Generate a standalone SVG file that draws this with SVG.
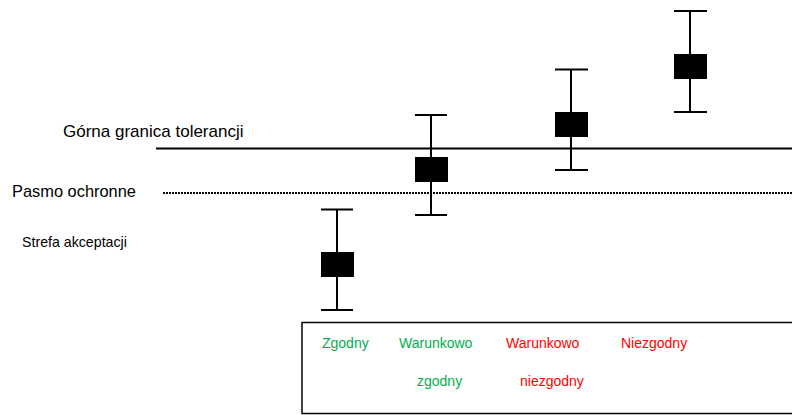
<svg xmlns="http://www.w3.org/2000/svg" width="792" height="415" viewBox="0 0 792 415">
<style>
.bar line{stroke:#000;stroke-width:2}
.bar rect{fill:#000}
.lbl{font-family:"Liberation Sans",Arial,sans-serif;fill:#000}
.g{font-family:"Liberation Sans",Arial,sans-serif;font-size:14px;fill:#00b050}
.r{font-family:"Liberation Sans",Arial,sans-serif;font-size:14px;fill:#ff0000}
</style>
<rect width="792" height="415" fill="#fff"/>
<g id="limits">
<line x1="156" y1="148.5" x2="792" y2="148.5" stroke="#000" stroke-width="2"/>
<line x1="163" y1="193" x2="792" y2="193" stroke="#000" stroke-width="2" stroke-dasharray="2,1"/>
</g>
<g id="labels">
<text class="lbl" x="63" y="137" font-size="17">Górna granica tolerancji</text>
<text class="lbl" x="12" y="197" font-size="16.4">Pasmo ochronne</text>
<text class="lbl" x="22" y="247" font-size="14.2">Strefa akceptacji</text>
</g>
<g id="bar1" class="bar">
<line x1="337" y1="209" x2="337" y2="310"/>
<line x1="321" y1="209.5" x2="353" y2="209.5"/>
<line x1="321" y1="310" x2="353" y2="310"/>
<rect x="321" y="252" width="33" height="25"/>
</g>
<g id="bar2" class="bar">
<line x1="431" y1="115" x2="431" y2="215"/>
<line x1="415" y1="115" x2="447" y2="115"/>
<line x1="415" y1="215" x2="447" y2="215"/>
<rect x="415" y="157" width="33" height="25"/>
</g>
<g id="bar3" class="bar">
<line x1="571" y1="69.5" x2="571" y2="170"/>
<line x1="555" y1="69.5" x2="588" y2="69.5"/>
<line x1="555" y1="170" x2="588" y2="170"/>
<rect x="555" y="112" width="33" height="25"/>
</g>
<g id="bar4" class="bar">
<line x1="690" y1="11" x2="690" y2="112"/>
<line x1="674" y1="11" x2="707" y2="11"/>
<line x1="674" y1="112" x2="707" y2="112"/>
<rect x="674" y="54" width="33" height="25"/>
</g>
<g id="legend">
<rect x="302" y="322.5" width="500" height="91" fill="none" stroke="#000" stroke-width="1.5"/>
<text class="g" x="322" y="348">Zgodny</text>
<text class="g" x="399" y="348">Warunkowo</text>
<text class="g" x="417" y="386">zgodny</text>
<text class="r" x="506" y="348">Warunkowo</text>
<text class="r" x="520" y="386">niezgodny</text>
<text class="r" x="621" y="348">Niezgodny</text>
</g>
</svg>
